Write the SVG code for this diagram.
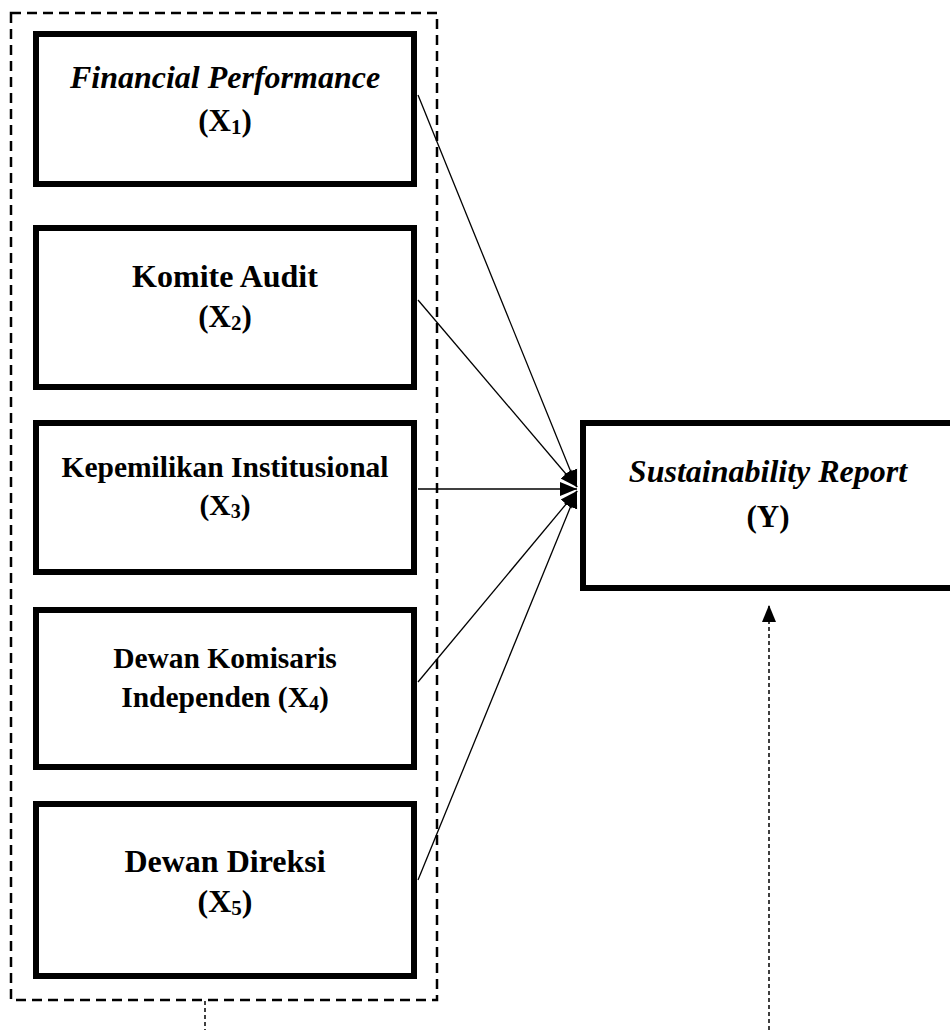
<svg xmlns="http://www.w3.org/2000/svg" width="950" height="1030" viewBox="0 0 950 1030">
<defs>
<marker id="ah" markerUnits="userSpaceOnUse" markerWidth="18" markerHeight="16" refX="17" refY="8" orient="auto">
<path d="M0,1 L17,8 L0,15 Z" fill="#000"/>
</marker>
<style>
.box{fill:#fff;stroke:#000;stroke-width:6}
.t{font-family:"Liberation Serif","Times New Roman",serif;font-weight:bold;fill:#000;text-anchor:middle}
.i{font-style:italic}
.c{stroke:#000;stroke-width:1.3;fill:none}
.d{stroke:#000;stroke-width:1.5;stroke-dasharray:4 3;fill:none}
</style>
</defs>
<rect x="0" y="0" width="950" height="1030" fill="#fff"/>
<g id="group-x">
<rect x="11" y="13" width="426" height="987" fill="none" stroke="#000" stroke-width="2.5" stroke-dasharray="10 6"/>
</g>
<g id="connectors">
<line class="c" x1="418" y1="95" x2="577" y2="487" marker-end="url(#ah)"/>
<line class="c" x1="418" y1="300" x2="577" y2="487" marker-end="url(#ah)"/>
<line class="c" x1="418" y1="489" x2="577" y2="489" marker-end="url(#ah)"/>
<line class="c" x1="418" y1="682" x2="577" y2="491" marker-end="url(#ah)"/>
<line class="c" x1="418" y1="880" x2="577" y2="491" marker-end="url(#ah)"/>
<line class="d" x1="769" y1="1030" x2="769" y2="605" marker-end="url(#ah)"/>
<line class="d" x1="205" y1="1001" x2="205" y2="1030"/>
</g>
<g id="x1">
<rect class="box" x="36" y="34" width="378" height="150"/>
<text class="t i" x="225" y="88" font-size="32">Financial Performance</text>
<text class="t" x="225" y="131" font-size="31">(X<tspan font-size="21" dy="3">1</tspan><tspan dy="-3">)</tspan></text>
</g>
<g id="x2">
<rect class="box" x="36" y="228" width="378" height="159"/>
<text class="t" x="225" y="287" font-size="32">Komite Audit</text>
<text class="t" x="225" y="327" font-size="31">(X<tspan font-size="21" dy="3">2</tspan><tspan dy="-3">)</tspan></text>
</g>
<g id="x3">
<rect class="box" x="36" y="423" width="378" height="149"/>
<text class="t" x="225" y="477" font-size="29.5">Kepemilikan Institusional</text>
<text class="t" x="225" y="515" font-size="29.5">(X<tspan font-size="20" dy="3">3</tspan><tspan dy="-3">)</tspan></text>
</g>
<g id="x4">
<rect class="box" x="36" y="610" width="378" height="157"/>
<text class="t" x="225" y="668" font-size="29.5">Dewan Komisaris</text>
<text class="t" x="225" y="707" font-size="29.5">Independen (X<tspan font-size="20" dy="3">4</tspan><tspan dy="-3">)</tspan></text>
</g>
<g id="x5">
<rect class="box" x="36" y="804" width="378" height="172"/>
<text class="t" x="225" y="872" font-size="32">Dewan Direksi</text>
<text class="t" x="225" y="912" font-size="32">(X<tspan font-size="21" dy="3">5</tspan><tspan dy="-3">)</tspan></text>
</g>
<g id="y">
<rect class="box" x="583" y="423" width="400" height="165"/>
<text class="t i" x="768" y="482" font-size="32">Sustainability Report</text>
<text class="t" x="768" y="527" font-size="31">(Y)</text>
</g>
</svg>
